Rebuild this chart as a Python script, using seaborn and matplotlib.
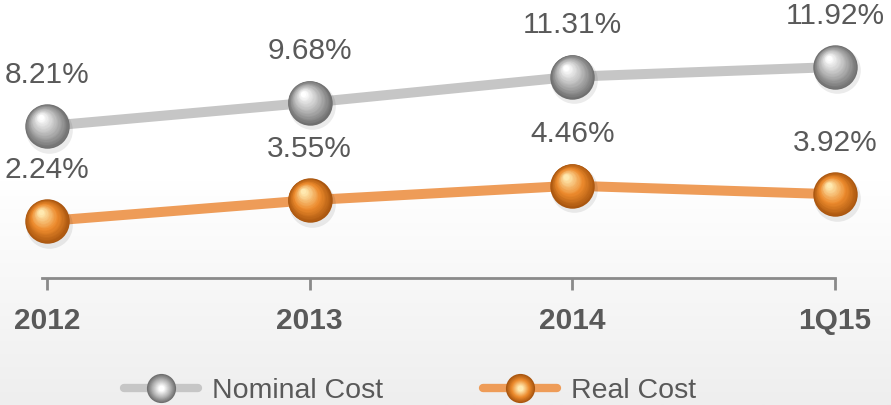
import numpy as np
import pandas as pd
import matplotlib
matplotlib.use("Agg")
import matplotlib.pyplot as plt
import seaborn as sns
from matplotlib.colors import LinearSegmentedColormap
from matplotlib.transforms import offset_copy
from matplotlib.lines import Line2D
from matplotlib.legend_handler import HandlerTuple

# ---- data ----
categories = ["2012", "2013", "2014", "1Q15"]
nominal_cost = [8.21, 9.68, 11.31, 11.92]
real_cost = [2.24, 3.55, 4.46, 3.92]
series_names = ["Nominal Cost", "Real Cost"]

sns.set_theme(style="white")
plt.rcParams["font.family"] = ["Liberation Sans", "DejaVu Sans"]

TEXT = "#595959"
styles = {
    "Nominal Cost": dict(line="#c6c6c6", rim="#6f6f6f", body="#b4b4b4", hi="#ffffff"),
    "Real Cost": dict(line="#ee9c58", rim="#a9560f", body="#ec8a2c", hi="#ffe9b0"),
}

df = pd.DataFrame({
    "x": categories * 2,
    "pos": list(range(len(categories))) * 2,
    "value": nominal_cost + real_cost,
    "series": [series_names[0]] * len(categories) + [series_names[1]] * len(categories),
})

fig = plt.figure(figsize=(8.91, 4.05), dpi=100)

# background gradient (white at top, light grey at bottom)
bg = fig.add_axes([0, 0, 1, 1], zorder=-10)
grad = np.linspace(0.0, 1.0, 256).reshape(-1, 1)
bg.imshow(grad, aspect="auto",
          cmap=LinearSegmentedColormap.from_list("bg", [(0, "#eeeeee"), (0.25, "#f6f6f6"), (0.55, "#ffffff"), (1, "#ffffff")]),
          extent=[0, 1, 0, 1], origin="lower")
bg.axis("off")

ax = fig.add_axes([0, 127 / 405, 1, 278 / 405])
ax.patch.set_alpha(0)

sns.lineplot(data=df, x="pos", y="value", hue="series", sort=False,
             palette={k: v["line"] for k, v in styles.items()},
             linewidth=7.2, legend=False, ax=ax, zorder=2)


def spheres(xs, ys, st, size_pt=32.0, n=22):
    cmap = LinearSegmentedColormap.from_list("s", [(0, st["rim"]), (0.45, st["body"]), (1, st["hi"])])
    tr = offset_copy(ax.transData, fig=fig, x=1.5, y=-2.5, units="points")
    ax.scatter(xs, ys, s=(size_pt * 1.05) ** 2, color="#000000", alpha=0.08, linewidths=0,
               transform=tr, zorder=2.5)
    for k in range(n):
        t = k / (n - 1)
        d = size_pt * (1 - 0.88 * t)
        off = 0.2 * size_pt * t
        tr = offset_copy(ax.transData, fig=fig, x=-off * 0.7, y=off, units="points")
        ax.scatter(xs, ys, s=d ** 2, color=cmap(t), linewidths=0, transform=tr, zorder=3 + k * 0.01)


pos = np.arange(len(categories))
for name, vals in zip(series_names, [nominal_cost, real_cost]):
    spheres(pos, vals, styles[name])
    for x, v in zip(pos, vals):
        ax.annotate(f"{v:.2f}%", (x, v), xytext=(0, 37), textcoords="offset points",
                    ha="center", va="center", fontsize=21.5, color=TEXT, zorder=5)

ax.set_xlim(-47 / 262.7, (891 - 47) / 262.7)
ax.set_ylim(-1.34, 16.13)
ax.set_xticks(pos)
ax.set_xticklabels(categories, fontsize=21.5, fontweight="bold", color=TEXT)
ax.set_yticks([])
ax.set_xlabel("")
ax.set_ylabel("")
for s in ["top", "left", "right"]:
    ax.spines[s].set_visible(False)
ax.spines["bottom"].set_color("#8a8a8a")
ax.spines["bottom"].set_linewidth(2.0)
ax.spines["bottom"].set_bounds(-0.02, 3.0)
ax.tick_params(axis="x", bottom=True, direction="out", length=8.6, width=2.0, color="#8a8a8a", pad=12)


def legend_handle(st, size=21):
    hs = [Line2D([], [], color=st["line"], lw=6)]
    cmap = LinearSegmentedColormap.from_list("s", [(0, st["rim"]), (0.45, st["body"]), (1, st["hi"])])
    n = 12
    for k in range(n):
        t = k / (n - 1)
        hs.append(Line2D([], [], ls="none", marker="o", markersize=size * (1 - 0.8 * t),
                         markerfacecolor=cmap(t), markeredgewidth=0))
    return tuple(hs)


handles = [legend_handle(styles[n]) for n in series_names]
fig.legend(handles, series_names, loc="center", bbox_to_anchor=(0.46, 0.035), ncol=2,
           frameon=False, fontsize=20.5, labelcolor=TEXT, handlelength=2.6, handletextpad=0.5,
           columnspacing=3.5, handler_map={tuple: HandlerTuple(ndivide=1, pad=0)})

fig.savefig("out.png", dpi=100)
